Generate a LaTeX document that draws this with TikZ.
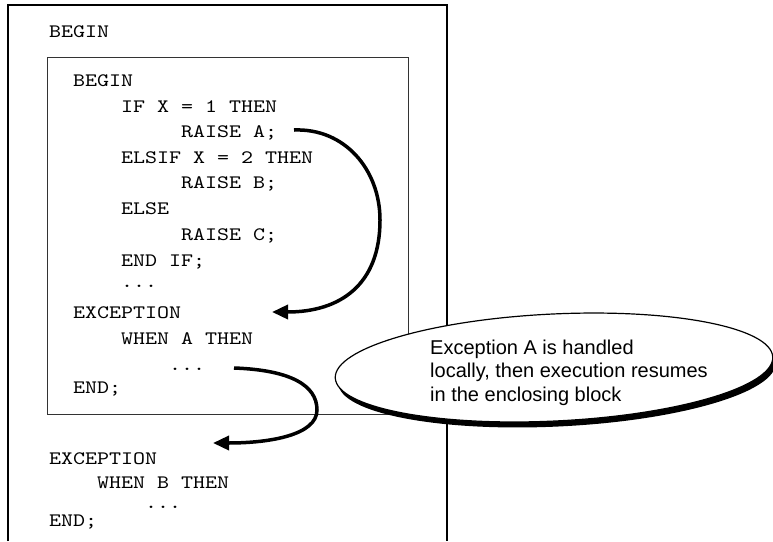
\documentclass[tikz,border=0pt]{standalone}
\usepackage{fontspec}
\setmainfont{Liberation Sans}
\newfontfamily\codefont{lmmono10-regular.otf}[FakeStretch=1.203]
\usetikzlibrary{arrows.meta}
\begin{document}
\begin{tikzpicture}[x=1pt,y=-1pt,
  code/.style={anchor=base west,inner sep=0pt,font=\codefont\fontsize{19}{24}\selectfont},
  notetext/.style={anchor=base west,inner sep=0pt,font=\fontsize{20}{24}\selectfont},
  flow/.style={line width=3.5pt,-{Triangle[length=16pt,width=14pt]}},
  outerbox/.style={line width=1.5pt,black},
  innerbox/.style={line width=1pt,black!80}]
\useasboundingbox (0,0) rectangle (773,541);
% outer block
\draw[outerbox] (8,541) -- (8,5) -- (447,5) -- (447,541);
% inner block
\draw[innerbox] (47,57) rectangle (408,414);
% outer code
\node[code] (obegin) at (49,37) {BEGIN};
% inner code
\node[code] (ibegin) at (73,86) {BEGIN};
\node[code] (if) at (121,112) {IF X = 1 THEN};
\node[code] (ra) at (181,137) {RAISE A;};
\node[code] (elsif) at (121,163) {ELSIF X = 2 THEN};
\node[code] (rb) at (181,188) {RAISE B;};
\node[code] (else) at (121,214) {ELSE};
\node[code] (rc) at (181,240) {RAISE C;};
\node[code] (endif) at (121,266) {END IF;};
\node[code] (dots1) at (121,287) {...};
\node[code] (iexc) at (73,318) {EXCEPTION};
\node[code] (whena) at (121,344) {WHEN A THEN};
\node[code] (dots2) at (169,370) {...};
\node[code] (iend) at (73,393) {END;};
% outer handler
\node[code] (oexc) at (49,464) {EXCEPTION};
\node[code] (whenb) at (97,488) {WHEN B THEN};
\node[code] (dots3) at (145,508) {...};
\node[code] (oend) at (49,526) {END;};
% arrows
\coordinate (a1s) at (294,130);
\coordinate (a1m) at (380,220);
\coordinate (a1e) at (272,312);
\coordinate (a2s) at (234,368);
\coordinate (a2m) at (317,410);
\coordinate (a2e) at (213,443);
\draw[flow] (a1s) .. controls (345,128) and (380,170) .. (a1m)
  .. controls (380,285) and (340,312) .. (a1e);
% callout
\fill[black,rotate around={2.75:(557,373)}] (557,373) ellipse [x radius=219,y radius=53.5];
\filldraw[fill=white,draw=black,line width=1.2pt,rotate around={2.75:(554,367.5)}]
  (554,367.5) ellipse [x radius=219,y radius=53.5];
\node[notetext] (n1) at (430,354) {Exception A is handled};
\node[notetext] (n2) at (430,377.5) {locally, then execution resumes};
\node[notetext] (n3) at (430,401) {in the enclosing block};
\draw[flow] (a2s) .. controls (290,370) and (317,385) .. (a2m)
  .. controls (317,435) and (270,443) .. (a2e);
\end{tikzpicture}
\end{document}
